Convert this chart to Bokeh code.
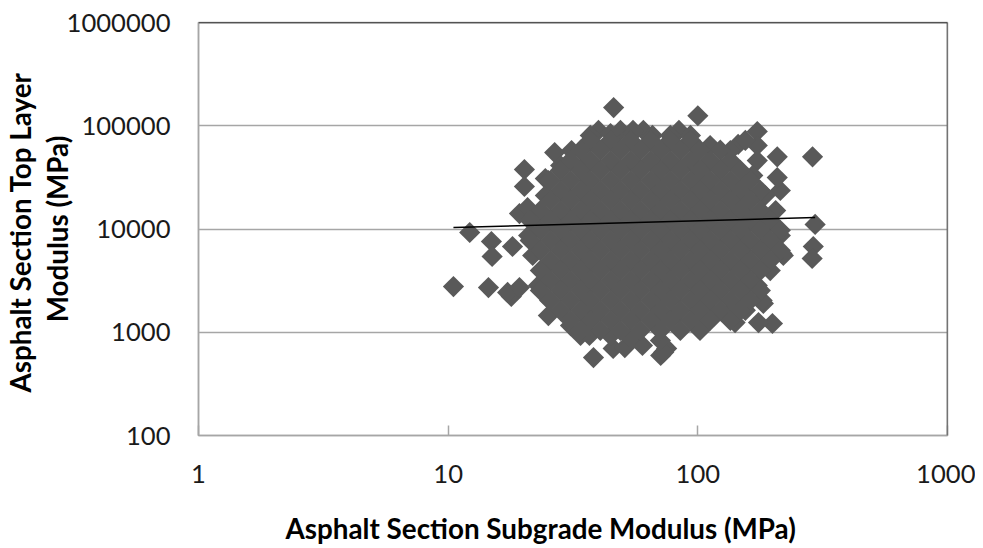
from math import pi
from bokeh.embed import file_html
from bokeh.models import FixedTicker, Range1d, Span, Title
from bokeh.plotting import figure
from bokeh.resources import INLINE

x_tick_values = [1, 10, 100, 1000]
x_tick_labels = ["1", "10", "100", "1000"]
y_tick_values = [100, 1000, 10000, 100000, 1000000]
y_tick_labels = ["100", "1000", "10000", "100000", "1000000"]

# Isolated diamonds
outlier_x = [46, 100, 173, 208, 288, 10.5, 12.2, 14.9, 15, 14.5, 18.1, 17.9, 17.3, 19.3,
             20.2, 20.2, 19.3, 20.8, 26.7, 24.5, 38.2, 45.8, 51, 60, 71, 75, 73, 36.8,
             199, 175, 183, 131, 295, 290, 287, 217, 214, 208, 173, 145, 84, 40, 49, 60.5, 55]
outlier_y = [150000, 125000, 88000, 50000, 50000, 2770, 9250, 7570, 5420, 2710, 6770, 2220, 2430, 2710,
             37700, 25800, 14100, 16100, 55000, 30800, 569, 697, 710, 745, 596, 697, 640, 930,
             1215, 1240, 1900, 1450, 11070, 6770, 5180, 5790, 23600, 31500, 64400, 66000, 90000, 90000, 90000, 90000, 90000]

# Diamonds that make up the jagged edge of the cloud
edge_x = [31.2, 28.2, 25.2, 24.5, 22, 21, 21.8, 24.1, 23, 25.5, 25.2, 30.9, 33.9, 70.8, 53.8, 44.7,
          173, 166, 186, 205, 214, 220, 195, 173, 181, 155, 141, 102,
          37.1, 44.7, 54.7, 65.8, 77.6, 93.4, 112, 135, 155]
edge_y = [57500, 41200, 29500, 21100, 13500, 8650, 5540, 3960, 2840, 2030, 1450, 1160, 930, 832, 870, 930,
          46000, 33000, 21100, 15100, 8650, 5540, 3960, 2840, 2030, 1630, 1240, 1040,
          80500, 84000, 84000, 80500, 80500, 80500, 64400, 57500, 72000]

# The centre of the cloud is solid: these estimated points cover the area it fills
cloud_row_y = [72000, 58000, 46000, 37000, 29500, 23600, 18900, 15100, 12100, 9700,
               7750, 6200, 4950, 3970, 3170, 2540, 2030, 1620, 1300, 1040]
cloud_row_x = [
    [37.1, 44.7, 53.8, 64.7, 77.6, 93.4],
    [33.9, 40.7, 49, 58.9, 70.8, 85.1, 102, 123],
    [30.9, 37.1, 44.7, 53.8, 64.7, 77.6, 93.4, 112, 135],
    [28.2, 33.9, 40.7, 49, 58.9, 70.8, 85.1, 102, 123, 148],
    [25.7, 30.9, 37.1, 44.7, 53.8, 64.7, 77.6, 93.4, 112, 135, 162],
    [28.2, 33.9, 40.7, 49, 58.9, 70.8, 85.1, 102, 123, 148, 178],
    [25.7, 30.9, 37.1, 44.7, 53.8, 64.7, 77.6, 93.4, 112, 135, 162],
    [23.4, 28.2, 33.9, 40.7, 49, 58.9, 70.8, 85.1, 102, 123, 148, 178],
    [21.3, 25.7, 30.9, 37.1, 44.7, 53.8, 64.7, 77.6, 93.4, 112, 135, 162, 195],
    [23.4, 28.2, 33.9, 40.7, 49, 58.9, 70.8, 85.1, 102, 123, 148, 178, 214],
    [21.3, 25.7, 30.9, 37.1, 44.7, 53.8, 64.7, 77.6, 93.4, 112, 135, 162, 195],
    [23.4, 28.2, 33.9, 40.7, 49, 58.9, 70.8, 85.1, 102, 123, 148, 178, 214],
    [25.7, 30.9, 37.1, 44.7, 53.8, 64.7, 77.6, 93.4, 112, 135, 162, 195],
    [23.4, 28.2, 33.9, 40.7, 49, 58.9, 70.8, 85.1, 102, 123, 148, 178],
    [25.7, 30.9, 37.1, 44.7, 53.8, 64.7, 77.6, 93.4, 112, 135, 162],
    [23.4, 28.2, 33.9, 40.7, 49, 58.9, 70.8, 85.1, 102, 123, 148, 178],
    [25.7, 30.9, 37.1, 44.7, 53.8, 64.7, 77.6, 93.4, 112, 135, 162],
    [28.2, 33.9, 40.7, 49, 58.9, 70.8, 85.1, 102, 123, 148],
    [30.9, 37.1, 44.7, 53.8, 64.7, 77.6, 93.4, 112, 135],
    [33.9, 40.7, 49, 58.9, 70.8, 85.1],
]

trend_x = [10.5, 295]
trend_y = [10340, 12900]

point_x = list(outlier_x) + list(edge_x)
point_y = list(outlier_y) + list(edge_y)
for row_y, row_x in zip(cloud_row_y, cloud_row_x):
    point_x += row_x
    point_y += [row_y] * len(row_x)

FONT = "Lato"
GRAY = "#a6a6a6"

p = figure(width=975, height=548, output_backend="svg", toolbar_location=None,
           x_axis_type="log", y_axis_type="log",
           x_range=Range1d(1, 1000), y_range=Range1d(100, 1000000),
           min_border_left=198, min_border_right=28, min_border_top=22, min_border_bottom=113,
           background_fill_color="white", border_fill_color="white",
           outline_line_color=GRAY, outline_line_width=1.5)

p.xgrid.visible = False
p.ygrid.ticker = FixedTicker(ticks=y_tick_values)
p.ygrid.grid_line_color = GRAY
p.ygrid.grid_line_width = 1.5

p.xaxis.ticker = FixedTicker(ticks=x_tick_values)
p.yaxis.ticker = FixedTicker(ticks=y_tick_values)
p.xaxis.major_label_overrides = dict(zip(x_tick_values, x_tick_labels))
p.yaxis.major_label_overrides = dict(zip(y_tick_values, y_tick_labels))

for axis in (p.xaxis[0], p.yaxis[0]):
    axis.axis_line_color = GRAY
    axis.axis_line_width = 1.5
    axis.major_tick_line_color = GRAY
    axis.major_tick_line_width = 1.5
    axis.major_tick_out = 0
    axis.minor_tick_line_color = None
    axis.major_label_text_font = FONT
    axis.major_label_text_font_size = "25.6px"
    axis.major_label_text_color = "#1a1a1a"

p.xaxis.major_tick_in = 10
p.yaxis.major_tick_in = 0
p.xaxis.major_label_standoff = 29
p.yaxis.major_label_standoff = 28


def title(text, **kwargs):
    return Title(text=text, text_font=FONT, text_font_style="bold", text_font_size="27.8px",
                 text_color="black", **kwargs)


def spacer(size):
    return Title(text=" ", text_font_size="1px", standoff=size)


p.add_layout(spacer(21), "below")
p.add_layout(title("Asphalt Section  Subgrade Modulus (MPa)", align="left", offset=87, standoff=0), "below")
p.add_layout(title("Modulus (MPa)", align="center", standoff=-21), "left")
p.add_layout(spacer(10), "left")
p.add_layout(title("Asphalt Section  Top Layer", align="center", standoff=0), "left")

p.add_layout(Span(location=1000000, dimension="width", line_color="black", line_width=1.5))
p.add_layout(Span(location=1000, dimension="height", line_color="#404040", line_width=1.5))

p.scatter(point_x, point_y, marker="square", angle=pi / 4, size=15,
          fill_color="#595959", line_color=None)
p.line(trend_x, trend_y, line_color="black", line_width=1.5)

open("out.html", "w").write(file_html(p, INLINE))
